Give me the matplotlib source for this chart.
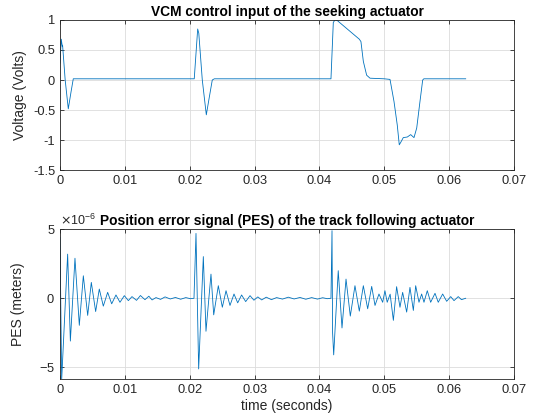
import matplotlib
matplotlib.use("Agg")
import matplotlib.pyplot as plt
import numpy as np
from matplotlib.ticker import ScalarFormatter

# VCM control input (Volts)
vcm_t = [0.0, 0.0002, 0.00035, 0.0004, 0.0008, 0.00128, 0.0017, 0.00205, 0.0025,
         0.010, 0.015, 0.0207, 0.02123, 0.0214, 0.02194, 0.02256, 0.0230, 0.02348,
         0.0238, 0.030, 0.035, 0.04178, 0.04214, 0.0424, 0.04276, 0.04615, 0.0464,
         0.04677, 0.04728, 0.0478, 0.050, 0.05088, 0.0509, 0.0515, 0.052, 0.05231,
         0.05253, 0.05293, 0.05355, 0.05407, 0.05458, 0.055, 0.0555, 0.05592, 0.0561,
         0.059, 0.06255]
vcm_v = [0.28, 0.68, 0.56, 0.58, 0.0, -0.48, -0.2, 0.02, 0.02,
         0.02, 0.02, 0.02, 0.85, 0.78, 0.0, -0.58, -0.3, 0.0,
         0.02, 0.02, 0.02, 0.02, 0.96, 1.0, 0.99, 0.68, 0.64,
         0.31, 0.08, 0.03, 0.02, 0.01, 0.0, -0.36, -0.75, -1.08,
         -1.04, -0.96, -0.95, -0.91, -0.96, -0.8, -0.36, 0.0, 0.02,
         0.02, 0.02]

# Position error signal (micrometres)
pes_t = [0.0, 0.00026, 0.00118, 0.0016, 0.00231, 0.00298, 0.0036, 0.00427, 0.00483,
         0.0055, 0.00606, 0.00668, 0.00735, 0.00797, 0.00863, 0.00925, 0.00992,
         0.01054, 0.0111, 0.0118, 0.0124, 0.0131, 0.0137, 0.0142, 0.0148, 0.0155,
         0.0162, 0.0170, 0.0178, 0.0186, 0.0194, 0.0201, 0.02066,
         0.02097, 0.02138, 0.0221, 0.02251, 0.02328, 0.0237, 0.02441, 0.02503,
         0.0256, 0.02621, 0.02683, 0.0274, 0.028, 0.02863, 0.0293, 0.0299,
         0.0305, 0.0311, 0.0318, 0.0326, 0.0334, 0.0343, 0.0352, 0.0361, 0.0370,
         0.0379, 0.0388, 0.0397, 0.0405, 0.0412, 0.04178,
         0.04194, 0.04203, 0.0422, 0.0429, 0.04348, 0.0441, 0.04476, 0.04548,
         0.04615, 0.04677, 0.04744, 0.04806, 0.04857, 0.04918, 0.04975, 0.0501,
         0.05045, 0.0509, 0.0514, 0.0519, 0.05242, 0.05283, 0.05345, 0.05396,
         0.05448, 0.05484, 0.05535, 0.05576, 0.05612, 0.05663, 0.05715, 0.05782,
         0.05832, 0.059, 0.05962, 0.06024, 0.06075, 0.0614, 0.0619, 0.06255]
pes_um = [4.4, -5.9, 3.2, -3.1, 2.9, -1.96, 1.63, -1.24, 1.15,
          -0.96, 0.67, -0.57, 0.43, -0.4, 0.24, -0.29, 0.19,
          -0.17, 0.12, -0.15, 0.2, -0.1, 0.15, -0.12, 0.05, -0.08,
          0.1, -0.05, 0.06, -0.07, 0.05, -0.03, 0.0,
          4.7, -5.12, 3.02, -2.39, 1.75, -1.2, 0.91, -0.65,
          0.55, -0.52, 0.31, -0.33, 0.24, -0.24, 0.19, -0.14,
          0.1, -0.12, 0.08, -0.1, 0.05, -0.06, 0.08, -0.05, 0.06,
          -0.07, 0.05, -0.06, 0.04, -0.03, 0.0,
          4.9, -2.5, -4.1, 2.0, -2.15, 1.39, -1.29, 0.91,
          -0.93, 0.91, -0.76, 0.86, -0.52, 0.31, -0.29, 0.55,
          -0.29, 0.3, -1.6, 0.84, -0.65, 0.43, -1.0, 0.79,
          -0.88, 0.91, -0.29, 0.31, -0.29, 0.55, -0.29, 0.36,
          -0.29, 0.31, -0.22, 0.12, -0.17, 0.12, -0.1, 0.0]

line_color = "#0072BD"
text_color = "#262626"
plt.rcParams['font.family'] = ['Liberation Sans', 'DejaVu Sans']


def style_axes(ax):
    ax.grid(True, color="#dcdcdc", linewidth=0.6)
    ax.set_axisbelow(True)
    ax.tick_params(direction="in", top=True, right=True, length=3,
                   labelsize=9.3, colors=text_color, width=0.6)
    for s in ax.spines.values():
        s.set_color(text_color)
        s.set_linewidth(0.6)
    ax.set_xlim(0, 0.07)
    ax.set_xticks(np.arange(0, 0.071, 0.01))
    ax.set_xticklabels(["0", "0.01", "0.02", "0.03", "0.04", "0.05", "0.06", "0.07"])


fig = plt.figure(figsize=(5.38, 4.2), dpi=100)
ax1 = fig.add_axes([0.1115, 0.5952, 0.8439, 0.3572])
ax2 = fig.add_axes([0.1115, 0.0976, 0.8439, 0.3565])

ax1.plot(vcm_t, vcm_v, color=line_color, linewidth=0.6)
style_axes(ax1)
ax1.set_ylim(-1.5, 1)
ax1.set_yticks([-1.5, -1, -0.5, 0, 0.5, 1])
ax1.set_yticklabels(["-1.5", "-1", "-0.5", "0", "0.5", "1"])
ax1.set_ylabel("Voltage (Volts)", fontsize=10, color=text_color, labelpad=4)
ax1.set_title("VCM control input of the seeking actuator", fontsize=9.9,
              fontweight="bold", pad=3)

ax2.plot(pes_t, np.array(pes_um) * 1e-6, color=line_color, linewidth=0.6)
style_axes(ax2)
ax2.set_ylim(-5.85e-6, 5e-6)
ax2.set_yticks([-5e-6, 0, 5e-6])
fmt = ScalarFormatter(useMathText=True)
fmt.set_powerlimits((-3, 3))
ax2.yaxis.set_major_formatter(fmt)
ax2.yaxis.get_offset_text().set_fontsize(9)
ax2.yaxis.get_offset_text().set_color(text_color)
ax2.set_ylabel("PES (meters)", fontsize=10, color=text_color, labelpad=10)
ax2.set_xlabel("time (seconds)", fontsize=10, color=text_color, labelpad=2)
ax2.set_title("Position error signal (PES) of the track following actuator",
              fontsize=9.9, fontweight="bold", pad=3)

fig.savefig("out.png", dpi=100)
